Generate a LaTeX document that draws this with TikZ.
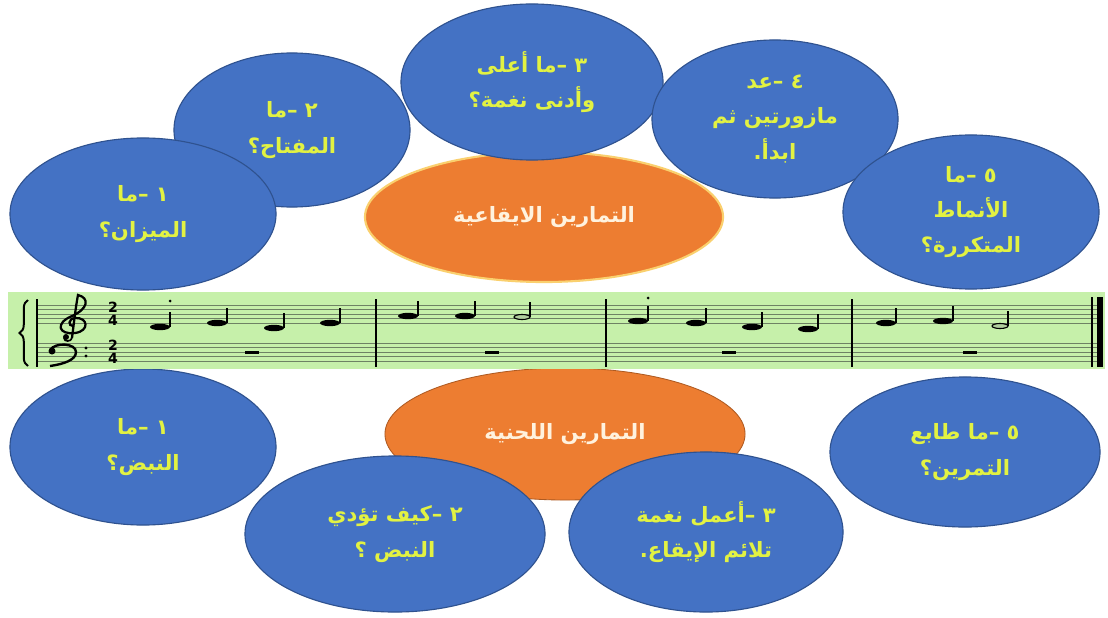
\documentclass[tikz,border=0pt]{standalone}
\usepackage{fontspec}
\usetikzlibrary{shapes.geometric,decorations.pathreplacing}
\newfontfamily\arabicfont[Script=Arabic]{DejaVu Sans}
\newfontfamily\digitfont{DejaVu Sans}
\TeXXeTstate=1
\newcommand{\rl}[1]{\leavevmode\beginR #1\endR}

\definecolor{bubble}{RGB}{68,114,196}
\definecolor{bubbleline}{RGB}{47,82,143}
\definecolor{quest}{RGB}{226,242,66}
\definecolor{theme}{RGB}{237,125,49}
\definecolor{themetext}{RGB}{255,242,222}
\definecolor{rimyellow}{RGB}{250,208,110}
\definecolor{rimbrown}{RGB}{174,90,33}
\definecolor{band}{RGB}{198,240,170}
\definecolor{staffgrey}{RGB}{110,130,100}

\tikzset{
  question/.style={ellipse, draw=bubbleline, fill=bubble, line width=0.8pt, inner sep=0pt,
    text=quest, align=center, font=\arabicfont\bfseries\fontsize{15}{25}\selectfont},
  topic/.style={ellipse, fill=theme, inner sep=0pt, text=themetext,
    font=\arabicfont\bfseries\fontsize{15}{25}\selectfont},
  staffline/.style={draw=staffgrey, line width=0.45pt},
  barline/.style={line width=1.3pt},
  stem/.style={line width=1.1pt},
  timesig/.style={inner sep=0pt, align=center, font=\digitfont\bfseries\fontsize{10}{9}\selectfont}
}

\begin{document}
\begin{tikzpicture}[x=0.025cm, y=-0.025cm]
	\useasboundingbox (0,0) rectangle (1108,617);
	\fill[white] (0,0) rectangle (1108,617);

	% rhythm exercises (top)
	\node[topic, draw=rimyellow, line width=1.5pt, minimum width=8.95cm, minimum height=3.25cm] (rhythm) at (544,217) {\rl{التمارين الايقاعية}};
	\node[question, minimum width=5.9cm, minimum height=3.85cm] (keyq) at (292,130) {\rl{٢ –ما}\\\rl{المفتاح؟}};
	\node[question, minimum width=6.65cm, minimum height=3.8cm] (meterq) at (143,214) {\rl{١ –ما}\\\rl{الميزان؟}};
	\node[question, minimum width=6.55cm, minimum height=3.9cm] (rangeq) at (532,82) {\rl{٣ –ما أعلى}\\\rl{وأدنى نغمة؟}};
	\node[question, minimum width=6.15cm, minimum height=3.95cm] (countq) at (775,119) {\rl{٤ –عد}\\\rl{مازورتين ثم}\\\rl{ابدأ.}};
	\node[question, minimum width=6.4cm, minimum height=3.85cm] (patternq) at (971,212) {\rl{٥ –ما}\\\rl{الأنماط}\\\rl{المتكررة؟}};

	% melodic exercises (bottom)
	\node[topic, draw=rimbrown, line width=0.6pt, minimum width=9cm, minimum height=3.3cm] (melody) at (565,434) {\rl{التمارين اللحنية}};
	\node[question, minimum width=6.65cm, minimum height=3.9cm] (pulseq) at (143,447) {\rl{١ –ما}\\\rl{النبض؟}};
	\node[question, minimum width=7.5cm, minimum height=3.9cm] (howq) at (395,534) {\rl{٢ –كيف تؤدي}\\\rl{النبض ؟}};
	\node[question, minimum width=6.85cm, minimum height=4cm] (composeq) at (706,532) {\rl{٣ –أعمل نغمة}\\\rl{تلائم الإيقاع.}};
	\node[question, minimum width=6.75cm, minimum height=3.75cm] (characterq) at (965,452) {\rl{٥ –ما طابع}\\\rl{التمرين؟}};

	% the score
	\fill[band] (8,292) rectangle (1105,369);
	\foreach \l in {0,...,4} {
		\draw[staffline] (37,{305+4.5*\l}) -- (1100,{305+4.5*\l});
		\draw[staffline] (37,{343+4.5*\l}) -- (1100,{343+4.5*\l});
	}
	\draw[decorate, decoration={brace, amplitude=6pt}, line width=1.4pt] (28,366) -- (28,300);
	\draw[barline] (37,299) -- (37,367);
	\foreach \bx in {376,606,852} \draw[barline] (\bx,299) -- (\bx,367);
	\draw[line width=1pt] (1092,297) -- (1092,367);
	\fill (1097,297) rectangle (1103,367);

	% clefs and time
	\draw[line width=1.6pt] (72,338) .. controls (74,322) and (76,305) .. (78,295)
		.. controls (90,298) and (88,309) .. (72,316)
		.. controls (55,323) and (58,335) .. (75,333)
		.. controls (90,331) and (88,317) .. (75,318)
		.. controls (68,319) and (68,326) .. (73,326);
	\draw[line width=1.2pt] (72,338) .. controls (71,342) and (64,342) .. (64,338);
	\fill (66,337) circle [radius=3];
	\fill (52,351) circle [radius=3.5];
	\draw[line width=1.7pt] (50,350) .. controls (55,342) and (76,343) .. (76,352)
		.. controls (76,360) and (64,364) .. (50,366);
	\fill (86,348) circle [radius=1.7];
	\fill (86,356) circle [radius=1.7];
	\node[timesig] (trebletime) at (113,314) {2\\4};
	\node[timesig] (basstime) at (113,352) {2\\4};

	% notes
	\foreach \nx/\ny in {160/327,217/323,274/328,330/323,408/316,465/316,638/321,696/323,752/327,808/329,886/323,943/321} {
		\fill (\nx,\ny) ellipse [x radius=10, y radius=3.2];
		\draw[stem] ({\nx+10},\ny) -- ({\nx+10},{\ny-15});
	}
	\foreach \nx/\ny in {522/317,1000/326} {
		\draw[line width=0.8pt, fill=band!70!gray] (\nx,\ny) ellipse [x radius=8, y radius=2.5];
		\draw[line width=0.9pt] ({\nx+8},\ny) -- ({\nx+8},{\ny-15});
	}
	\fill (170,301) circle [radius=1.5];
	\fill (648,298) circle [radius=1.5];
	\foreach \rx in {252,492,729,970} \fill (\rx-7,350.5) rectangle (\rx+7,353.5);
\end{tikzpicture}
\end{document}
